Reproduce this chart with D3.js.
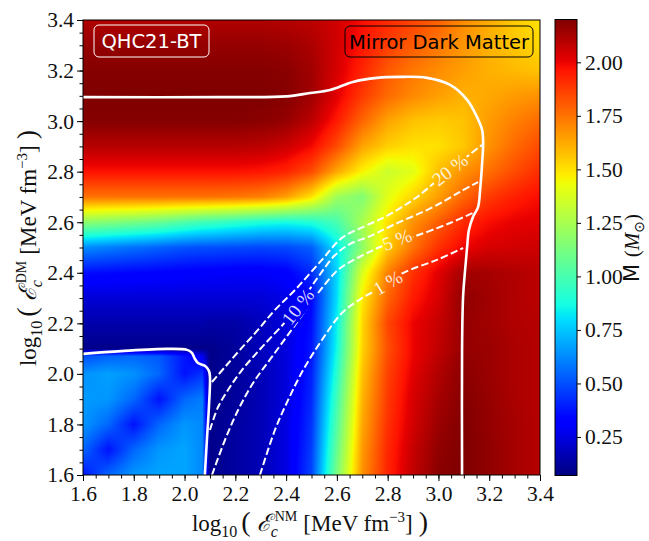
<!DOCTYPE html>
<html>
<head>
<meta charset="utf-8">
<script src="https://cdn.jsdelivr.net/npm/d3@7"></script>
<style>
body { margin: 0; background: #fff; }
svg text { font-family: "Liberation Serif", "DejaVu Serif", serif; }
.sans { font-family: "DejaVu Sans", sans-serif; }
</style>
</head>
<body>
<svg id="fig" width="649" height="541"></svg>
<script>
// ---- data ----
// grid columns: log10(eps_c NM), rows: log10(eps_c DM) listed top -> bottom
var xsGrid = [1.6, 1.7, 1.8, 1.9, 2.0, 2.07, 2.1, 2.2, 2.3, 2.4, 2.5, 2.6, 2.7, 2.8, 2.9, 3.0, 3.1, 3.2, 3.3, 3.4];
var ysGrid = [3.4, 3.3, 3.2, 3.1, 3.0, 2.9, 2.8, 2.7, 2.6, 2.5, 2.4, 2.3, 2.2, 2.1, 2.07, 2.0, 1.9, 1.8, 1.7, 1.6];
// max mass (M_sun) at each grid node
var massGrid = [
  [2.11,2.11,2.11,2.11,2.11,2.11,2.11,2.11,2.11,2.10,2.09,2.05,1.98,1.92,1.86,1.79,1.69,1.62,1.55,1.50],
  [2.16,2.16,2.16,2.16,2.16,2.16,2.16,2.16,2.16,2.15,2.12,2.05,1.96,1.87,1.80,1.74,1.67,1.61,1.56,1.52],
  [2.19,2.19,2.19,2.19,2.19,2.19,2.19,2.19,2.19,2.18,2.14,2.04,1.93,1.81,1.74,1.69,1.65,1.61,1.59,1.57],
  [2.20,2.20,2.20,2.20,2.20,2.20,2.20,2.20,2.20,2.19,2.14,2.02,1.88,1.77,1.70,1.65,1.61,1.63,1.66,1.68],
  [2.19,2.19,2.19,2.19,2.19,2.19,2.19,2.19,2.18,2.16,2.09,1.95,1.78,1.64,1.57,1.55,1.57,1.66,1.72,1.77],
  [2.10,2.10,2.10,2.10,2.10,2.10,2.10,2.10,2.09,2.06,1.99,1.84,1.64,1.54,1.50,1.50,1.56,1.68,1.77,1.84],
  [1.97,1.97,1.97,1.97,1.97,1.97,1.97,1.97,1.96,1.93,1.84,1.63,1.46,1.34,1.40,1.58,1.68,1.76,1.84,1.91],
  [1.75,1.75,1.75,1.75,1.75,1.75,1.75,1.74,1.72,1.65,1.50,1.22,1.15,1.40,1.53,1.65,1.78,1.88,1.94,1.98],
  [1.18,1.15,1.12,1.08,1.02,0.98,0.97,0.93,0.89,0.87,0.90,1.00,1.25,1.50,1.68,1.80,1.92,1.98,2.01,2.02],
  [0.63,0.60,0.57,0.54,0.51,0.50,0.50,0.49,0.48,0.49,0.53,0.82,1.18,1.55,1.75,1.90,2.00,2.04,2.05,2.06],
  [0.36,0.35,0.34,0.33,0.32,0.31,0.31,0.30,0.30,0.32,0.42,0.78,1.38,1.72,1.90,2.02,2.14,2.13,2.11,2.09],
  [0.23,0.23,0.23,0.23,0.23,0.23,0.23,0.23,0.23,0.26,0.34,0.80,1.48,1.78,1.95,2.04,2.17,2.14,2.11,2.09],
  [0.15,0.15,0.15,0.15,0.15,0.15,0.14,0.14,0.18,0.24,0.36,0.84,1.52,1.85,2.00,2.07,2.16,2.14,2.11,2.10],
  [0.09,0.09,0.09,0.09,0.09,0.09,0.09,0.12,0.18,0.24,0.38,0.86,1.53,1.83,2.00,2.08,2.16,2.15,2.12,2.10],
  [0.50,0.54,0.55,0.52,0.38,0.28,0.09,0.12,0.18,0.24,0.38,0.88,1.54,1.84,2.00,2.09,2.17,2.15,2.12,2.10],
  [0.64,0.67,0.64,0.55,0.37,0.44,0.09,0.12,0.17,0.24,0.40,0.92,1.57,1.86,2.02,2.11,2.18,2.15,2.12,2.10],
  [0.66,0.65,0.55,0.37,0.55,0.60,0.09,0.12,0.17,0.24,0.42,0.98,1.60,1.88,2.04,2.13,2.19,2.16,2.12,2.10],
  [0.65,0.55,0.37,0.55,0.65,0.62,0.09,0.13,0.17,0.25,0.44,1.03,1.63,1.90,2.05,2.15,2.20,2.16,2.13,2.10],
  [0.55,0.37,0.55,0.65,0.68,0.62,0.09,0.13,0.17,0.25,0.46,1.08,1.66,1.92,2.07,2.17,2.20,2.17,2.13,2.10],
  [0.37,0.55,0.65,0.68,0.68,0.62,0.09,0.13,0.17,0.25,0.48,1.13,1.68,1.93,2.08,2.18,2.20,2.17,2.13,2.10]
];
var massRange = [0.07, 2.2];

// solid white boundaries
var solidUpper = [[1.6,3.095],[2.14,3.095],[2.40,3.098],[2.494,3.111],[2.573,3.123],[2.663,3.155],[2.758,3.171],
  [2.849,3.175],[2.955,3.171],[3.046,3.143],[3.113,3.084],[3.152,3.016],[3.172,2.965],[3.176,2.913],[3.172,2.834],
  [3.164,2.727],[3.156,2.660],[3.136,2.621],[3.120,2.569],[3.113,2.502],[3.105,2.411],[3.097,2.304],[3.093,2.095],[3.093,1.6]];
var solidLower = [[1.6,2.079],[1.75,2.090],[1.931,2.099],[2.010,2.095],[2.029,2.083],[2.041,2.059],[2.053,2.043],
  [2.080,2.032],[2.096,2.012],[2.100,1.988],[2.096,1.869],[2.088,1.739],[2.080,1.6]];

// dashed DM-fraction contours
var dm20 = [[2.108,1.968],[2.159,2.027],[2.218,2.095],[2.289,2.174],[2.356,2.253],[2.435,2.332],[2.541,2.451],[2.620,2.538],
  [2.711,2.585],[2.782,2.617],[2.849,2.656],[2.916,2.700],[3.006,2.775],[3.085,2.838],[3.172,2.906]];
var dm10 = [[2.100,1.778],[2.132,1.869],[2.171,1.936],[2.226,2.015],[2.305,2.106],[2.396,2.205],[2.455,2.280],[2.526,2.383],
  [2.593,2.470],[2.652,2.514],[2.731,2.545],[2.821,2.589],[2.979,2.660],[3.085,2.720],[3.156,2.759]];
var dm5 = [[2.108,1.6],[2.159,1.738],[2.211,1.857],[2.270,1.964],[2.344,2.067],[2.435,2.193],[2.526,2.320],[2.604,2.411],
  [2.652,2.443],[2.711,2.474],[2.770,2.502],[2.900,2.542],[3.046,2.597],[3.136,2.637]];
var dm1 = [[2.297,1.6],[2.356,1.778],[2.408,1.897],[2.467,2.015],[2.541,2.134],[2.620,2.241],[2.699,2.300],[2.770,2.340],
  [2.860,2.399],[2.994,2.451],[3.097,2.498]];
var dmLines = [dm20, dm10, dm5, dm1];
var dmLabels = [
  {text: "20 %", x: 3.046, y: 2.807, angle: -38},
  {text: "10 %", x: 2.447, y: 2.265, angle: -52},
  {text: "5 %",  x: 2.837, y: 2.530, angle: -21},
  {text: "1 %",  x: 2.801, y: 2.360, angle: -31}
];

var axisTicks = [1.6, 1.8, 2.0, 2.2, 2.4, 2.6, 2.8, 3.0, 3.2, 3.4];
var axisMinor = d3.range(32, 69).map(function(d){ return d / 20; });
var cbTicks = [0.25, 0.5, 0.75, 1.0, 1.25, 1.5, 1.75, 2.0];

// ---- layout ----
var plot = {left: 83, top: 20, right: 540, bottom: 475};
var cb = {left: 555, right: 577, top: 19.5, bottom: 475.5};
var W = plot.right - plot.left, H = plot.bottom - plot.top;

var svg = d3.select("#fig");
var x = d3.scaleLinear().domain([1.6, 3.4]).range([plot.left, plot.right]);
var y = d3.scaleLinear().domain([1.6, 3.4]).range([plot.bottom, plot.top]);

// jet colormap
var jetR = d3.scaleLinear().domain([0, 0.35, 0.66, 0.89, 1]).range([0, 0, 1, 1, 0.5]).clamp(true);
var jetG = d3.scaleLinear().domain([0, 0.125, 0.375, 0.64, 0.91, 1]).range([0, 0, 1, 1, 0, 0]).clamp(true);
var jetB = d3.scaleLinear().domain([0, 0.11, 0.34, 0.65, 1]).range([0.5, 1, 1, 0, 0]).clamp(true);
var norm = d3.scaleLinear().domain(massRange).range([0, 1]).clamp(true);
function jet(t){ return [jetR(t) * 255, jetG(t) * 255, jetB(t) * 255]; }

// bilinear lookup on the (non uniform) grid
var yAsc = ysGrid.slice().reverse();
var gridAsc = massGrid.slice().reverse();
function cell(arr, v){
  var i = d3.bisectRight(arr, v) - 1;
  i = Math.max(0, Math.min(arr.length - 2, i));
  var t = (v - arr[i]) / (arr[i + 1] - arr[i]);
  return [i, Math.max(0, Math.min(1, t))];
}
function massAt(vx, vy){
  var cx = cell(xsGrid, vx), cy = cell(yAsc, vy);
  var i = cx[0], tx = cx[1], j = cy[0], ty = cy[1];
  var a = gridAsc[j][i] * (1 - tx) + gridAsc[j][i + 1] * tx;
  var b = gridAsc[j + 1][i] * (1 - tx) + gridAsc[j + 1][i + 1] * tx;
  return a * (1 - ty) + b * ty;
}

// heatmap raster
var canvas = document.createElement("canvas");
canvas.width = W; canvas.height = H;
var ctx = canvas.getContext("2d");
var img = ctx.createImageData(W, H);
for (var py = 0; py < H; py++) {
  var vy = y.invert(plot.top + py + 0.5);
  for (var px = 0; px < W; px++) {
    var vx = x.invert(plot.left + px + 0.5);
    var c = jet(norm(massAt(vx, vy)));
    var k = (py * W + px) * 4;
    img.data[k] = c[0]; img.data[k + 1] = c[1]; img.data[k + 2] = c[2]; img.data[k + 3] = 255;
  }
}
ctx.putImageData(img, 0, 0);
svg.append("image")
  .attr("x", plot.left).attr("y", plot.top)
  .attr("width", W).attr("height", H)
  .attr("href", canvas.toDataURL());

var defs = svg.append("defs");
defs.append("clipPath").attr("id", "clipPlot")
  .append("rect").attr("x", plot.left).attr("y", plot.top).attr("width", W).attr("height", H);

// mask that opens gaps for the contour labels
var mask = defs.append("mask").attr("id", "labelGaps").attr("maskUnits", "userSpaceOnUse")
  .attr("x", 0).attr("y", 0).attr("width", 649).attr("height", 541);
mask.append("rect").attr("width", 649).attr("height", 541).attr("fill", "white");
dmLabels.forEach(function(d){
  var w = d.text.length > 3 ? 42 : 32;
  mask.append("rect")
    .attr("x", -w / 2).attr("y", -9).attr("width", w).attr("height", 18)
    .attr("fill", "black")
    .attr("transform", "translate(" + x(d.x) + "," + y(d.y) + ") rotate(" + d.angle + ")");
});

var line = d3.line().x(function(d){ return x(d[0]); }).y(function(d){ return y(d[1]); })
  .curve(d3.curveCatmullRom.alpha(0.5));

var gLines = svg.append("g").attr("clip-path", "url(#clipPlot)");
gLines.append("g").attr("mask", "url(#labelGaps)")
  .selectAll("path.dm").data(dmLines).enter().append("path")
  .attr("class", "dm")
  .attr("d", line)
  .attr("fill", "none").attr("stroke", "white").attr("stroke-width", 2)
  .attr("stroke-dasharray", "7.4,3.2");

gLines.selectAll("path.solid").data([solidUpper, solidLower]).enter().append("path")
  .attr("class", "solid")
  .attr("d", line)
  .attr("fill", "none").attr("stroke", "white").attr("stroke-width", 2.6);

svg.selectAll("text.clabel").data(dmLabels).enter().append("text")
  .attr("class", "clabel")
  .attr("transform", function(d){ return "translate(" + x(d.x) + "," + y(d.y) + ") rotate(" + d.angle + ")"; })
  .attr("text-anchor", "middle").attr("dy", "0.33em")
  .attr("font-size", 19).attr("fill", "white").attr("fill-opacity", 0.85)
  .text(function(d){ return d.text; });

// frame
svg.append("rect").attr("x", plot.left).attr("y", plot.top).attr("width", W).attr("height", H)
  .attr("fill", "none").attr("stroke", "black").attr("stroke-width", 1);

// axes
function styleAxis(g){
  g.select(".domain").remove();
  g.selectAll(".tick line").attr("stroke", "black");
  g.selectAll(".tick text").attr("font-size", 21.5).attr("fill", "#111")
    .style("font-family", "'Liberation Serif', serif");
}
svg.append("g").attr("transform", "translate(0," + plot.bottom + ")")
  .call(d3.axisBottom(x).tickValues(axisMinor).tickSize(3.5).tickFormat(""))
  .call(styleAxis);
svg.append("g").attr("transform", "translate(" + plot.left + ",0)")
  .call(d3.axisLeft(y).tickValues(axisMinor).tickSize(3.5).tickFormat(""))
  .call(styleAxis);
svg.append("g").attr("transform", "translate(0," + plot.bottom + ")")
  .call(d3.axisBottom(x).tickValues(axisTicks).tickSize(6).tickPadding(5).tickFormat(d3.format(".1f")))
  .call(styleAxis);
svg.append("g").attr("transform", "translate(" + plot.left + ",0)")
  .call(d3.axisLeft(y).tickValues(axisTicks).tickSize(6).tickPadding(3).tickFormat(d3.format(".1f")))
  .call(styleAxis);

// axis titles with sub/superscripts
function axisTitle(g, tag){
  var t = g.append("text").attr("text-anchor", "middle").attr("font-size", 23).attr("fill", "#111");
  t.append("tspan").text("log");
  t.append("tspan").attr("font-size", 16).attr("dy", 6).text("10");
  t.append("tspan").attr("font-size", 28).attr("dy", -6).attr("dx", 4).text("(");
  t.append("tspan").attr("dx", 6).attr("font-style", "italic").attr("font-size", 24).text("ℰ");
  t.append("tspan").attr("font-size", 16).attr("font-style", "italic").attr("dy", 6).text("c");
  t.append("tspan").attr("font-size", 14).attr("dx", -3).attr("dy", -16).text(tag);
  t.append("tspan").attr("dx", 6).attr("dy", 10).text("[MeV fm");
  t.append("tspan").attr("font-size", 15).attr("dy", -9).text("−3");
  t.append("tspan").attr("dy", 9).text("]");
  t.append("tspan").attr("font-size", 28).attr("dx", 6).text(")");
}
axisTitle(svg.append("g").attr("transform", "translate(310,531)"), "NM");
axisTitle(svg.append("g").attr("transform", "translate(36,248) rotate(-90)"), "DM");

// annotation boxes
function tagBox(cx, cy, w, h, label, color){
  var g = svg.append("g");
  g.append("rect").attr("x", cx - w / 2).attr("y", cy - h / 2).attr("width", w).attr("height", h)
    .attr("rx", 5).attr("fill", "none").attr("stroke", color).attr("stroke-width", 1);
  g.append("text").attr("class", "sans").attr("x", cx).attr("y", cy).attr("dy", "0.36em")
    .attr("text-anchor", "middle").attr("font-size", 19.5).attr("fill", color).text(label);
}
tagBox(151.5, 41, 115, 32, "QHC21-BT", "white");
tagBox(439, 41.5, 188, 31, "Mirror Dark Matter", "black");

// colorbar
var cScale = d3.scaleLinear().domain(massRange).range([cb.bottom, cb.top]);
var grad = defs.append("linearGradient").attr("id", "jetGrad")
  .attr("x1", 0).attr("y1", 1).attr("x2", 0).attr("y2", 0);
d3.range(0, 1.0001, 0.01).forEach(function(t){
  var c = jet(t);
  grad.append("stop").attr("offset", t).attr("stop-color", d3.rgb(c[0], c[1], c[2]).formatHex());
});
svg.append("rect").attr("x", cb.left).attr("y", cb.top).attr("width", cb.right - cb.left)
  .attr("height", cb.bottom - cb.top).attr("fill", "url(#jetGrad)")
  .attr("stroke", "black").attr("stroke-width", 1);
svg.append("g").attr("transform", "translate(" + cb.right + ",0)")
  .call(d3.axisRight(cScale).tickValues(cbTicks).tickSize(4).tickPadding(4).tickFormat(d3.format(".2f")))
  .call(styleAxis);

var cbLabel = svg.append("text").attr("transform", "translate(639,248) rotate(-90)")
  .attr("text-anchor", "middle").attr("font-size", 21).attr("fill", "#111");
cbLabel.append("tspan").style("font-family", "'DejaVu Sans', sans-serif").text("M ");
cbLabel.append("tspan").text("(");
cbLabel.append("tspan").attr("font-style", "italic").text("M");
cbLabel.append("tspan").attr("font-size", 14).attr("dy", 5).style("font-family", "'DejaVu Sans', sans-serif").text("⊙");
cbLabel.append("tspan").attr("dy", -5).text(")");
</script>
</body>
</html>
